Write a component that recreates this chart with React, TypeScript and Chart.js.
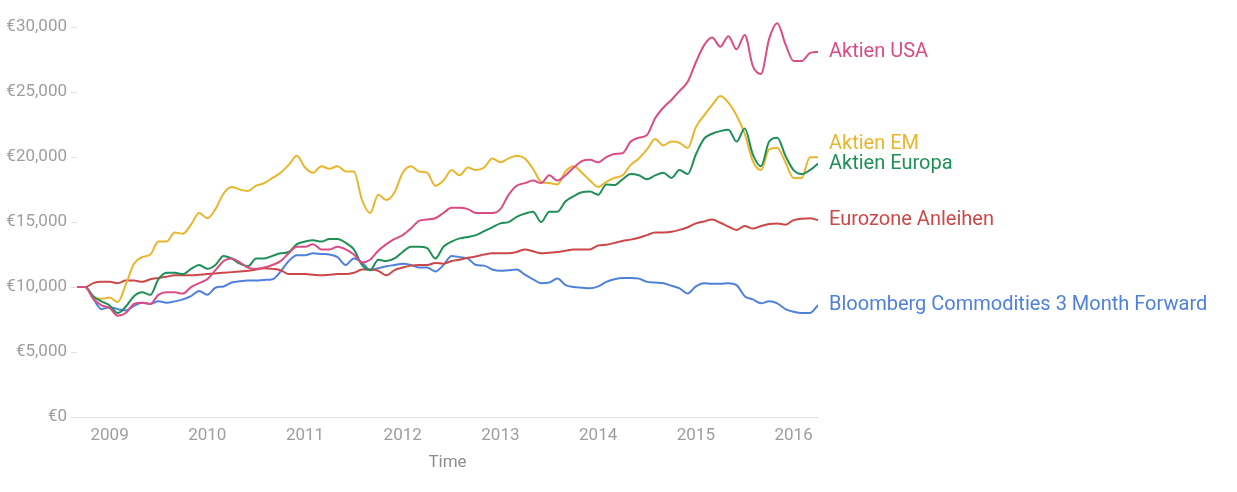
import React, { useEffect, useRef } from 'react';
import { Chart, registerables } from 'chart.js';

Chart.register(...registerables);

// Monthly observations, September 2008 to April 2016
const START_YEAR = 2008;
const START_MONTH = 9;
const MONTH_COUNT = 92;
const months: number[] = [];
for (let k = 0; k < MONTH_COUNT; k++) {
  months.push(START_YEAR + (START_MONTH - 1 + k) / 12);
}

const seriesNames = [
  'Aktien USA',
  'Aktien EM',
  'Aktien Europa',
  'Eurozone Anleihen',
  'Bloomberg Commodities 3 Month Forward',
];

const seriesColors = ['#DB4C84', '#E8B62C', '#1E8F57', '#CC4848', '#4F81DB'];

const aktienUSA = [
  10000, 10000, 9100, 8600, 8400, 7800, 8000, 8700, 8800, 8700,
  9400, 9600, 9600, 9500, 10000, 10300, 10600, 11300, 12000, 12200,
  11900, 11500, 11400, 11500, 11700, 12000, 12600, 13100, 13100, 13300,
  12900, 12900, 13100, 12900, 12500, 11900, 12100, 12800, 13300, 13700,
  14000, 14500, 15100, 15200, 15300, 15700, 16100, 16100, 16000, 15700,
  15700, 15700, 16000, 17100, 17800, 18000, 18200, 18000, 18600, 18200,
  18600, 19200, 19700, 19800, 19600, 20000, 20250, 20300, 21200, 21500,
  21700, 23000, 23800, 24400, 25100, 25800, 27300, 28600, 29200, 28500,
  29300, 28300, 29400, 27000, 26400, 29100, 30300, 28700, 27400, 27400,
  28000, 28100,
];

const aktienEM = [
  10000, 10000, 9200, 9100, 9200, 8850, 10200, 11800, 12300, 12500,
  13500, 13500, 14200, 14100, 14800, 15700, 15300, 16000, 17200, 17700,
  17500, 17400, 17800, 18000, 18400, 18800, 19400, 20100, 19200, 18800,
  19300, 19100, 19300, 18900, 18900, 16700, 15700, 17100, 16700, 17300,
  18800, 19300, 18900, 18800, 17800, 18200, 19000, 18600, 19200, 19000,
  19200, 19900, 19600, 19900, 20100, 19900, 19100, 18100, 18000, 17900,
  18900, 19300, 18800, 18200, 17700, 18100, 18400, 18600, 19400, 19900,
  20600, 21400, 20900, 21200, 21100, 20700, 22300, 23200, 24000, 24700,
  24200, 23200, 21800, 19700, 19000, 20600, 20700, 19600, 18400, 18400,
  20000, 20000,
];

const aktienEuropa = [
  10000, 10000, 9300, 8900, 8600, 8000, 8500, 9300, 9600, 9400,
  10600, 11100, 11100, 11000, 11400, 11700, 11400, 11700, 12400, 12200,
  11800, 11600, 12200, 12200, 12400, 12600, 12700, 13300, 13500, 13600,
  13500, 13700, 13700, 13400, 12900, 11700, 11300, 12100, 12000, 12200,
  12700, 13100, 13100, 13000, 12200, 13100, 13500, 13750, 13850, 14000,
  14300, 14600, 14900, 15000, 15400, 15650, 15800, 15000, 15800, 15800,
  16600, 17000, 17300, 17350, 17100, 17900, 17850, 18300, 18700, 18600,
  18300, 18600, 18800, 18400, 19000, 18700, 20200, 21400, 21800, 22000,
  22100, 21200, 22200, 20200, 19300, 21200, 21500, 20100, 19000, 18700,
  19000, 19500,
];

const eurozoneAnleihen = [
  10000, 10000, 10300, 10400, 10400, 10300, 10500, 10500, 10400, 10600,
  10700, 10800, 10900, 10900, 10900, 10950, 11000, 11050, 11100, 11150,
  11200, 11250, 11350, 11450, 11400, 11300, 11000, 11000, 11000, 10950,
  10900, 10950, 11000, 11000, 11100, 11350, 11350, 11250, 10900, 11300,
  11500, 11650, 11700, 11700, 11850, 11800, 12000, 12100, 12250, 12350,
  12500, 12600, 12600, 12600, 12700, 12900, 12750, 12600, 12650, 12700,
  12800, 12900, 12900, 12900, 13200, 13250, 13400, 13550, 13650, 13800,
  14000, 14200, 14200, 14250, 14400, 14600, 14900, 15050, 15200, 14950,
  14650, 14400, 14700, 14500, 14700, 14850, 14900, 14800, 15150, 15250,
  15300, 15150,
];

const bloombergCommodities = [
  10000, 10000, 9100, 8300, 8450, 8300, 8200, 8550, 8800, 8700,
  8900, 8800, 8900, 9050, 9300, 9700, 9400, 9950, 10050, 10350,
  10450, 10500, 10500, 10550, 10600, 11200, 12000, 12450, 12450, 12600,
  12550, 12500, 12300, 11700, 12200, 11900, 11300, 11450, 11600, 11700,
  11800, 11700, 11500, 11500, 11200, 11700, 12400, 12300, 12200, 11700,
  11650, 11350, 11250, 11300, 11350, 10950, 10600, 10300, 10350, 10650,
  10150, 10000, 9950, 9900, 10050, 10400, 10600, 10700, 10700, 10650,
  10400, 10350, 10300, 10100, 9900, 9500, 10050, 10300, 10250, 10250,
  10300, 10150, 9300, 9050, 8750, 8900, 8750, 8300, 8100, 8000,
  8000, 8600,
];

const seriesValues = [aktienUSA, aktienEM, aktienEuropa, eurozoneAnleihen, bloombergCommodities];
const drawOrder = [1, 3, 2, 4, 5];

const yTicks = [0, 5000, 10000, 15000, 20000, 25000, 30000];
const xTicks = [2009, 2010, 2011, 2012, 2013, 2014, 2015, 2016];
const xTitle = 'Time';

const FONT = 'Roboto, "Noto Sans", sans-serif';

const endLabels = {
  id: 'endLabels',
  afterDatasetsDraw(chart: any) {
    const { ctx, chartArea } = chart;
    const items = chart.data.datasets.map((ds: any, i: number) => {
      const meta = chart.getDatasetMeta(i);
      const pt = meta.data[meta.data.length - 1];
      return { text: ds.label, color: ds.borderColor, y: pt.y };
    });
    items.sort((a: any, b: any) => b.y - a.y); // bottom first
    const gap = 20;
    for (let k = 1; k < items.length; k++) {
      if (items[k].y > items[k - 1].y - gap) items[k].y = items[k - 1].y - gap;
    }
    ctx.save();
    ctx.font = '20px ' + FONT;
    ctx.textAlign = 'left';
    ctx.textBaseline = 'middle';
    for (const it of items) {
      ctx.fillStyle = it.color;
      ctx.fillText(it.text, chartArea.right + 11, it.y);
    }
    ctx.restore();
  },
};

export default function App() {
  const canvasRef = useRef<HTMLCanvasElement | null>(null);

  useEffect(() => {
    document.body.style.margin = '0';
    const canvas = canvasRef.current;
    if (!canvas) return;
    const chart = new Chart(canvas, {
      type: 'line',
      data: {
        datasets: seriesNames.map((name, i) => ({
          label: name,
          data: months.map((m, k) => ({ x: m, y: seriesValues[i][k] })),
          borderColor: seriesColors[i],
          backgroundColor: seriesColors[i],
          borderWidth: 2,
          pointRadius: 0,
          cubicInterpolationMode: 'monotone' as const,
          fill: false,
          order: drawOrder[i],
        })),
      },
      options: {
        responsive: false,
        animation: false,
        layout: { padding: { left: 0, right: 419, top: 0, bottom: 0 } },
        plugins: {
          legend: { display: false },
          tooltip: { enabled: false },
        },
        scales: {
          x: {
            type: 'linear',
            min: months[0],
            max: months[months.length - 1],
            afterBuildTicks: (axis: any) => {
              axis.ticks = xTicks.map((v) => ({ value: v }));
            },
            afterFit: (axis: any) => {
              axis.height = 75;
            },
            ticks: {
              color: '#9e9e9e',
              font: { family: FONT, size: 17 },
              padding: 9,
              maxRotation: 0,
              autoSkip: false,
              callback: (v: any) => String(v),
            },
            grid: { display: false, drawTicks: false },
            border: { display: true, color: '#e3e3e3', width: 1 },
            title: {
              display: true,
              text: xTitle,
              color: '#8e8e8e',
              font: { family: FONT, size: 17 },
              padding: { top: 0, bottom: 19 },
            },
          },
          y: {
            type: 'linear',
            min: 0,
            max: 31000,
            afterBuildTicks: (axis: any) => {
              axis.ticks = yTicks.map((v) => ({ value: v }));
            },
            afterFit: (axis: any) => {
              axis.width = 77;
            },
            ticks: {
              color: '#9e9e9e',
              font: { family: FONT, size: 17 },
              padding: 4,
              callback: (v: any) => '€' + Number(v).toLocaleString('en-US'),
            },
            grid: {
              drawOnChartArea: false,
              drawTicks: true,
              tickLength: 6,
              tickColor: '#e0e0e0',
            },
            border: { display: false },
          },
        },
      },
      plugins: [endLabels],
    });
    return () => chart.destroy();
  }, []);

  return (
    <div style={{ width: 1237, height: 492 }}>
      <canvas ref={canvasRef} width={1237} height={492} />
    </div>
  );
}
